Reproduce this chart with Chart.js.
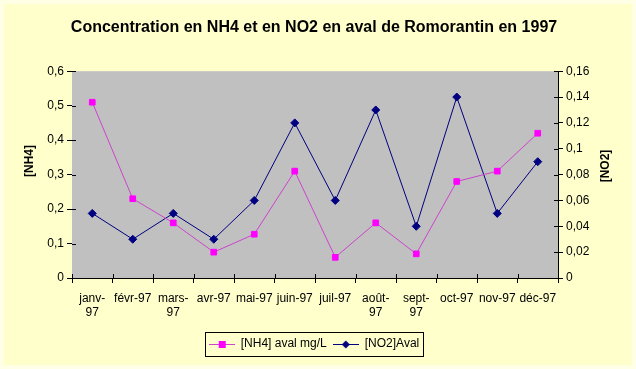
<!DOCTYPE html>
<html>
<head>
<meta charset="utf-8">
<script src="https://cdn.jsdelivr.net/npm/chart.js@4"></script>
<style>
  html, body { margin: 0; padding: 0; background: #FFFFCC; }
  #wrap { width: 636px; height: 369px; }
</style>
</head>
<body>
<div id="wrap"><canvas id="lineChart" width="636" height="369"></canvas></div>
<script>
const months = [['janv-', '97'], 'févr-97', ['mars-', '97'], 'avr-97', 'mai-97', 'juin-97',
  'juil-97', ['août-', '97'], ['sept-', '97'], 'oct-97', 'nov-97', 'déc-97'];
const nh4 = [0.51, 0.23, 0.16, 0.075, 0.127, 0.31, 0.06, 0.16, 0.07, 0.28, 0.31, 0.42];
const no2 = [0.05, 0.03, 0.05, 0.03, 0.06, 0.12, 0.06, 0.13, 0.04, 0.14, 0.05, 0.09];

const FONT = '"Liberation Sans", Arial, sans-serif';
const comma = v => String(Math.round(v * 100) / 100).replace('.', ',');

// little line + marker picture for the legend
function legendIcon(color, lineColor, shape) {
  const cv = document.createElement('canvas');
  cv.width = 26; cv.height = 10;
  const c = cv.getContext('2d');
  c.strokeStyle = lineColor;
  c.lineWidth = 1;
  c.beginPath();
  c.moveTo(0, 5.5); c.lineTo(26, 5.5);
  c.stroke();
  c.fillStyle = color;
  if (shape === 'rect') {
    c.fillRect(10, 2, 7, 7);
  } else {
    c.beginPath();
    c.moveTo(13, 1.5); c.lineTo(17, 5.5); c.lineTo(13, 9.5); c.lineTo(9, 5.5);
    c.closePath(); c.fill();
  }
  return cv;
}
const icons = [legendIcon('#FF00FF', '#CC44CC', 'rect'), legendIcon('#000080', '#000080', 'diamond')];

const decor = {
  id: 'decor',
  beforeDraw(chart) {
    const c = chart.ctx;
    c.save();
    c.fillStyle = '#FFFFE6';
    c.fillRect(0, 0, chart.width, chart.height);
    c.fillStyle = '#FFFFCC';
    c.fillRect(4, 4, chart.width - 8, chart.height - 8);
    c.restore();
  },
  afterDraw(chart) {
    const c = chart.ctx;
    const a = chart.chartArea;
    c.save();
    c.font = 'bold 12px ' + FONT;
    c.fillStyle = '#000';
    c.textAlign = 'center';
    c.textBaseline = 'middle';
    [[30, 161, '[NH4]'], [606, 166, '[NO2]']].forEach(([x, y, t]) => {
      c.save();
      c.translate(x, y);
      c.rotate(-Math.PI / 2);
      c.fillText(t, 0, 0);
      c.restore();
    });
    // inner halves of the tick marks
    c.strokeStyle = '#000';
    c.lineWidth = 1;
    c.beginPath();
    ['y', 'y1'].forEach(id => {
      const s = chart.scales[id];
      s.ticks.forEach((t, i) => {
        const py = Math.round(s.getPixelForTick(i)) + 0.5;
        const ax = id === 'y' ? a.left : a.right;
        const dir = id === 'y' ? 1 : -1;
        c.moveTo(ax, py); c.lineTo(ax + dir * 4, py);
      });
    });
    const xs = chart.scales.x;
    const step = (xs.right - xs.left) / months.length;
    for (let i = 0; i <= months.length; i++) {
      const px = Math.round(xs.left + i * step) + 0.5;
      c.moveTo(px, a.bottom); c.lineTo(px, a.bottom - 4);
    }
    c.stroke();
    // legend frame
    const boxes = chart.legend.legendHitBoxes;
    if (boxes && boxes.length) {
      const last = boxes[boxes.length - 1];
      const l = boxes[0].left - 4;
      const r = last.left + last.width + 3;
      const t = boxes[0].top - 6;
      const b = boxes[0].top + boxes[0].height + 6;
      c.strokeRect(Math.round(l) + 0.5, Math.round(t) + 0.5, Math.round(r - l), Math.round(b - t));
    }
    c.restore();
  }
};

const ctx = document.getElementById('lineChart');
new Chart(ctx, {
  type: 'line',
  data: {
    labels: months,
    datasets: [{
      label: '[NH4] aval mg/L',
      data: nh4,
      yAxisID: 'y',
      borderColor: '#CC44CC',
      backgroundColor: '#FF00FF',
      pointBorderColor: '#FF00FF',
      borderWidth: 1,
      pointStyle: 'rect',
      pointRadius: 4,
      tension: 0
    }, {
      label: '[NO2]Aval',
      data: no2,
      yAxisID: 'y1',
      borderColor: '#000080',
      backgroundColor: '#000080',
      pointBorderColor: '#000080',
      borderWidth: 1,
      pointStyle: 'rectRot',
      pointRadius: 4,
      tension: 0
    }]
  },
  options: {
    responsive: false,
    animation: false,
    layout: { padding: { top: 0, bottom: 9, left: 0, right: 8 } },
    plugins: {
      title: {
        display: true,
        text: 'Concentration en NH4 et en NO2 en aval de Romorantin en 1997',
        color: '#000',
        font: { family: FONT, size: 16, weight: 'bold' },
        padding: { top: 18, bottom: 34 }
      },
      legend: {
        position: 'bottom',
        labels: {
          usePointStyle: true,
          pointStyleWidth: 26,
          boxHeight: 10,
          padding: 6,
          color: '#000',
          font: { family: FONT, size: 12 },
          generateLabels(chart) {
            return chart.data.datasets.map((d, i) => ({
              text: d.label,
              pointStyle: icons[i],
              fillStyle: d.backgroundColor,
              strokeStyle: d.borderColor,
              lineWidth: 0,
              hidden: false,
              datasetIndex: i,
              fontColor: '#000'
            }));
          }
        }
      },
      tooltip: { enabled: false }
    },
    scales: {
      x: {
        offset: true,
        grid: { offset: true, drawOnChartArea: false, color: '#000', tickLength: 5, tickColor: '#000' },
        border: { color: '#000' },
        ticks: {
          maxRotation: 0, autoSkip: false, color: '#000', padding: 8,
          font: { family: FONT, size: 12 }
        },
        afterFit: s => { s.height = 54; }
      },
      y: {
        position: 'left',
        min: 0, max: 0.6,
        ticks: {
          stepSize: 0.1, color: '#000', padding: 3, callback: comma,
          font: { family: FONT, size: 12 }
        },
        grid: { drawOnChartArea: false, color: '#000', tickLength: 5 },
        border: { color: '#000' },
        afterFit: s => { s.width = 72; }
      },
      y1: {
        position: 'right',
        min: 0, max: 0.16,
        ticks: {
          stepSize: 0.02, color: '#000', padding: 3, callback: comma,
          font: { family: FONT, size: 12 }
        },
        grid: { drawOnChartArea: false, color: '#000', tickLength: 5 },
        border: { color: '#000' },
        afterFit: s => { s.width = 70; }
      }
    }
  },
  plugins: [decor, {
    id: 'plotBg',
    beforeDatasetsDraw(chart) {
      const a = chart.chartArea;
      chart.ctx.save();
      chart.ctx.fillStyle = '#C0C0C0';
      chart.ctx.fillRect(a.left, a.top, a.right - a.left, a.bottom - a.top);
      chart.ctx.restore();
    }
  }]
});
</script>
</body>
</html>
